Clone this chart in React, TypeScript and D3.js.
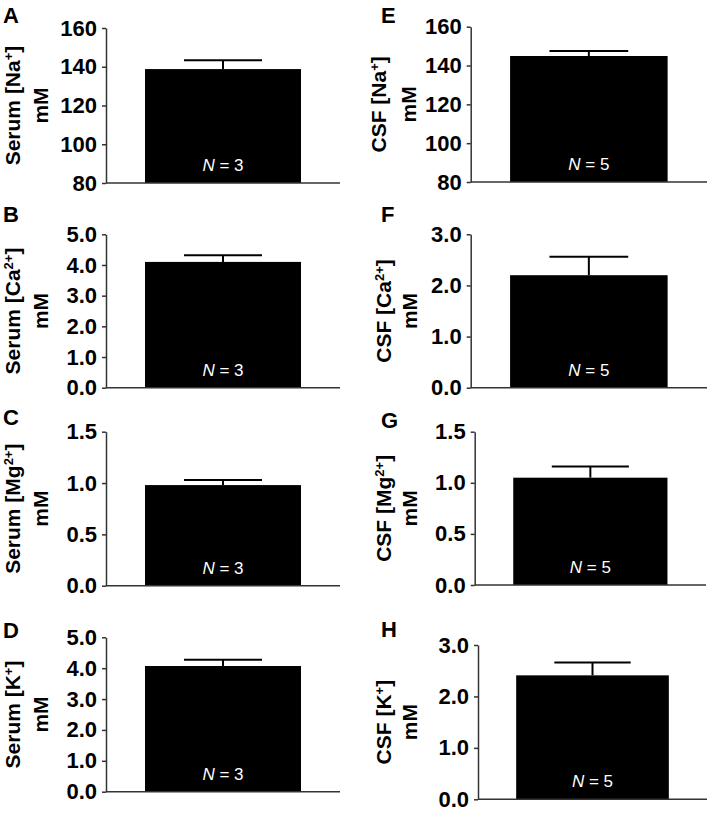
import React, { useEffect, useRef } from "react";
import * as d3 from "d3";

// ---- data ----
const panelIds = ["A", "B", "C", "D", "E", "F", "G", "H"];
const fluids = ["Serum", "Serum", "Serum", "Serum", "CSF", "CSF", "CSF", "CSF"];
const ions = ["Na", "Ca", "Mg", "K", "Na", "Ca", "Mg", "K"];
const charges = ["+", "2+", "2+", "+", "+", "2+", "2+", "+"];
const means = [138.8, 4.1, 0.98, 4.07, 144.9, 2.2, 1.05, 2.41];
const errors = [4.5, 0.22, 0.05, 0.2, 2.6, 0.36, 0.11, 0.25];
const nValues = [3, 3, 3, 3, 5, 5, 5, 5];
const ticksNa = [80, 100, 120, 140, 160];
const ticks5 = [0, 1, 2, 3, 4, 5];
const ticks15 = [0, 0.5, 1, 1.5];
const ticks3 = [0, 1, 2, 3];
const panelTicks = [ticksNa, ticks5, ticks15, ticks5, ticksNa, ticks3, ticks15, ticks3];
const unit = "mM";

// ---- layout ----
const layout = [
  { axisX: 106, endX: 340, top: 28, bottom: 183, letterX: 3, letterY: 23, lab1: 20, lab2: 48 },
  { axisX: 106, endX: 340, top: 234.3, bottom: 387.7, letterX: 3, letterY: 222, lab1: 20, lab2: 48 },
  { axisX: 106, endX: 340, top: 431.7, bottom: 585.7, letterX: 3, letterY: 425, lab1: 20, lab2: 48 },
  { axisX: 106, endX: 340, top: 637.3, bottom: 791.7, letterX: 3, letterY: 638, lab1: 20, lab2: 48 },
  { axisX: 470.7, endX: 707, top: 26.7, bottom: 182, letterX: 381, letterY: 23, lab1: 386, lab2: 416 },
  { axisX: 470.7, endX: 707, top: 234.3, bottom: 387.7, letterX: 381, letterY: 222, lab1: 390.5, lab2: 416.5 },
  { axisX: 474.7, endX: 706, top: 431.7, bottom: 585, letterX: 381, letterY: 428, lab1: 390.5, lab2: 417 },
  { axisX: 478, endX: 707, top: 645, bottom: 799.3, letterX: 381, letterY: 637, lab1: 390.5, lab2: 417 },
];

const FONT = "'Liberation Sans', Arial, Helvetica, sans-serif";
const AXIS_COLOR = "#333";

export default function App() {
  const ref = useRef<SVGSVGElement | null>(null);

  useEffect(() => {
    const svg = d3.select(ref.current);
    svg.selectAll("*").remove();

    panelIds.forEach((id, i) => {
      const L = layout[i];
      const ticks = panelTicks[i];
      const yMin = ticks[0];
      const yMax = ticks[ticks.length - 1];
      const y = d3.scaleLinear().domain([yMin, yMax]).range([L.bottom, L.top]);
      const x = d3
        .scaleBand<string>()
        .domain([fluids[i]])
        .range([L.axisX, L.endX])
        .paddingInner(0)
        .paddingOuter(0.25);
      const g = svg.append("g");

      // bar
      const bx = x(fluids[i]) as number;
      const bw = x.bandwidth();
      g.append("rect")
        .attr("x", bx)
        .attr("y", y(means[i]))
        .attr("width", bw)
        .attr("height", y(yMin) - y(means[i]))
        .attr("fill", "#000");

      // error bar (upper)
      const cx = bx + bw / 2;
      const capW = bw * 0.5;
      g.append("line")
        .attr("x1", cx)
        .attr("x2", cx)
        .attr("y1", y(means[i]))
        .attr("y2", y(means[i] + errors[i]))
        .attr("stroke", "#000")
        .attr("stroke-width", 2);
      g.append("line")
        .attr("x1", cx - capW / 2)
        .attr("x2", cx + capW / 2)
        .attr("y1", y(means[i] + errors[i]))
        .attr("y2", y(means[i] + errors[i]))
        .attr("stroke", "#000")
        .attr("stroke-width", 2);

      // N label
      const nt = g
        .append("text")
        .attr("x", cx)
        .attr("y", L.bottom - 12)
        .attr("text-anchor", "middle")
        .attr("fill", "#fff")
        .style("font-family", FONT)
        .style("font-size", "17px");
      nt.append("tspan").style("font-style", "italic").text("N");
      nt.append("tspan").text(" = " + nValues[i]);

      // y axis
      const fmt = yMax > 10 ? d3.format("d") : d3.format(".1f");
      const axis = d3
        .axisLeft(y)
        .tickValues(ticks)
        .tickFormat((d) => fmt(d as number))
        .tickSize(4)
        .tickSizeOuter(0)
        .tickPadding(5);
      const ag = g.append("g").attr("transform", `translate(${L.axisX},0)`).call(axis);
      ag.select(".domain").attr("stroke", AXIS_COLOR).attr("stroke-width", 1.5);
      ag.selectAll(".tick line").attr("stroke", AXIS_COLOR).attr("stroke-width", 1.5);
      ag.selectAll(".tick text")
        .attr("fill", "#000")
        .style("font-family", FONT)
        .style("font-size", "22px")
        .style("font-weight", "bold");

      // baseline
      g.append("line")
        .attr("x1", L.axisX)
        .attr("x2", L.endX)
        .attr("y1", y(yMin))
        .attr("y2", y(yMin))
        .attr("stroke", AXIS_COLOR)
        .attr("stroke-width", 1.5);

      // y label
      const midY = (L.top + L.bottom) / 2;
      const t1 = g
        .append("text")
        .attr("transform", `translate(${L.lab1},${midY}) rotate(-90)`)
        .attr("text-anchor", "middle")
        .style("font-family", FONT)
        .style("font-size", "21px")
        .style("font-weight", "bold");
      t1.append("tspan").text(`${fluids[i]} [${ions[i]}`);
      t1.append("tspan").attr("dy", -7).style("font-size", "13px").text(charges[i]);
      t1.append("tspan").attr("dy", 7).text("]");
      g.append("text")
        .attr("transform", `translate(${L.lab2},${midY}) rotate(-90)`)
        .attr("text-anchor", "middle")
        .style("font-family", FONT)
        .style("font-size", "21px")
        .style("font-weight", "bold")
        .text(unit);

      // panel letter
      g.append("text")
        .attr("x", L.letterX)
        .attr("y", L.letterY)
        .style("font-family", FONT)
        .style("font-size", "22px")
        .style("font-weight", "bold")
        .text(id);
    });
  }, []);

  return (
    <svg
      ref={ref}
      width={709}
      height={816}
      style={{ position: "absolute", left: 0, top: 0, background: "#fff" }}
    />
  );
}
